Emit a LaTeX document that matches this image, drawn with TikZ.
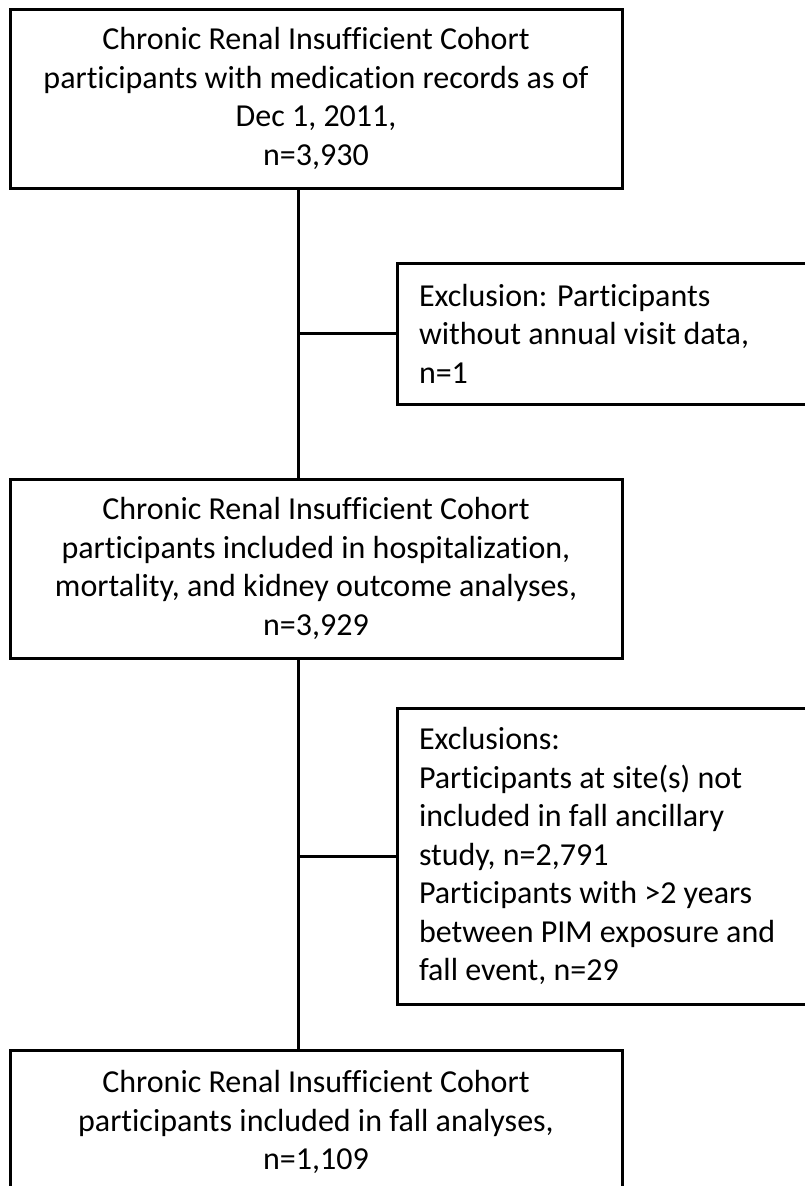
\documentclass[tikz,border=0pt]{standalone}
\usepackage{fontspec}
\setmainfont{Carlito}[Ligatures={NoCommon}]
\begin{document}
\begin{tikzpicture}[x=1pt,y=-1pt,
  every node/.style={font=\fontsize{32}{38.5}\selectfont},
  mainbox/.style={draw, line width=3pt, rectangle, minimum width=612pt, align=center, inner sep=0pt},
  exbox/.style={draw, line width=3pt, rectangle, text width=371pt, inner xsep=22pt, inner ysep=0pt, align=flush left},
  conn/.style={line width=3pt}]
\useasboundingbox (0,0) rectangle (805,1186);
\clip (0,0) rectangle (805,1186);
\fill[white] (0,0) rectangle (805,1186);
\node[mainbox, minimum height=179pt] (b1) at (316,98.5)
  {Chronic Renal Insufficient Cohort\\participants with medication records as of\\Dec 1, 2011,\\n=3,930};
\node[exbox, minimum height=141pt] (e1) at (604.5,333.5)
  {Exclusion: Participants\\without annual visit data,\\n=1};
\node[mainbox, minimum height=179pt] (b2) at (316,568.5)
  {Chronic Renal Insufficient Cohort\\participants included in hospitalization,\\mortality, and kidney outcome analyses,\\n=3,929};
\node[exbox, minimum height=296pt] (e2) at (604.5,856)
  {Exclusions:\\Participants at site(s) not\\included in fall ancillary\\study, n=2,791\\Participants with >2 years\\between PIM exposure and\\fall event, n=29};
\node[mainbox, minimum height=144pt] (b3) at (316,1122)
  {Chronic Renal Insufficient Cohort\\participants included in fall analyses,\\n=1,109};
\coordinate (sx) at (298,0);
\draw[conn] (b1.south -| sx) -- (b2.north -| sx);
\draw[conn] (b2.south -| sx) -- (b3.north -| sx);
\draw[conn] (sx |- e1.west) -- (e1.west);
\draw[conn] (sx |- e2.west) -- (e2.west);
\end{tikzpicture}
\end{document}
